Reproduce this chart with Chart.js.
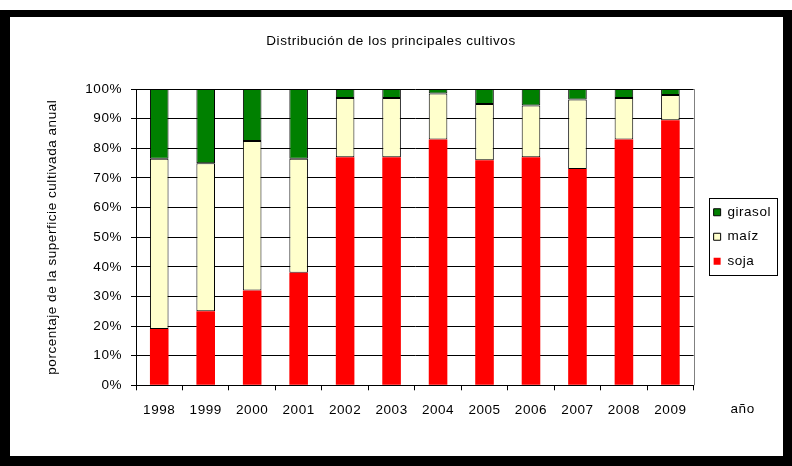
<!DOCTYPE html>
<html>
<head>
<meta charset="utf-8">
<script src="https://cdn.jsdelivr.net/npm/chart.js@4/dist/chart.umd.min.js"></script>
<style>
  body { margin: 0; background: #fff; }
  #frame {
    position: absolute; left: 0; top: 10px;
    width: 792px; height: 456px; box-sizing: border-box;
    border-style: solid; border-color: #000;
    border-width: 7px 9px 10px 10px;
    background: #fff;
  }
  #graphCanvas { display: block; }
</style>
</head>
<body>
<div id="frame">
  <canvas id="graphCanvas" width="773" height="439"></canvas>
</div>
<script>
// valores (porcentaje de la superficie)
var years = ["1998", "1999", "2000", "2001", "2002", "2003", "2004", "2005", "2006", "2007", "2008", "2009"];
var soja = [19, 25, 32, 38, 77, 77, 83, 76, 77, 73, 83, 89.5];
var maiz = [57.5, 50, 50.5, 38.5, 20, 20, 15.5, 19, 17.5, 23.5, 14, 8.5];
var girasol = [23.5, 25, 17.5, 23.5, 3, 3, 1.5, 5, 5.5, 3.5, 3, 2];
var yTicks = [0, 10, 20, 30, 40, 50, 60, 70, 80, 90, 100];

var fontFam = 'Arial, "Liberation Sans", sans-serif';
var fSize = 13.5;
Chart.defaults.font.family = fontFam;
Chart.defaults.font.size = fSize;
Chart.defaults.color = "#000";

// texto un poco mas ancho, como en el original
function spacing(chart) {
  chart.ctx.letterSpacing = "0.55px";
}

// borde de la leyenda, linea derecha del area y rotulo "año"
var extras = {
  id: "extras",
  beforeUpdate: spacing,
  beforeDraw: spacing,
  afterLayout: function (chart) {
    var lg = chart.legend;
    lg.left += 9;
    lg.right += 9;
    lg.top += 9.5;
    lg.bottom += 9.5;
  },
  afterDatasetsDraw: function (chart) {
    var ctx = chart.ctx;
    var a = chart.chartArea;
    ctx.save();
    ctx.strokeStyle = "#808080";
    ctx.lineWidth = 1;
    ctx.beginPath();
    ctx.moveTo(Math.round(a.right) + 0.5, a.top);
    ctx.lineTo(Math.round(a.right) + 0.5, a.bottom);
    ctx.stroke();
    ctx.restore();
  },
  afterDraw: function (chart) {
    var ctx = chart.ctx;
    var boxes = chart.legend.legendHitBoxes;
    if (boxes && boxes.length) {
      var l = 9999, r = 0, t = 9999, b = 0;
      for (var i = 0; i < boxes.length; i++) {
        l = Math.min(l, boxes[i].left);
        r = Math.max(r, boxes[i].left + boxes[i].width);
        t = Math.min(t, boxes[i].top);
        b = Math.max(b, boxes[i].top + boxes[i].height);
      }
      ctx.save();
      ctx.strokeStyle = "#000";
      ctx.lineWidth = 1;
      var x0 = Math.round(l - 5), y0 = Math.round(t - 7.5);
      ctx.strokeRect(x0 + 0.5, y0 + 0.5, Math.round(r + 6) - x0, Math.round(b + 6.5) - y0);
      ctx.restore();
    }
    var a = chart.chartArea;
    ctx.save();
    ctx.font = fSize + "px " + fontFam;
    ctx.fillStyle = "#000";
    ctx.textAlign = "center";
    ctx.textBaseline = "middle";
    ctx.fillText("año", a.right + 49, a.bottom + 24);
    ctx.restore();
  }
};

var chartData = {
  labels: years,
  datasets: [
    {
      label: "soja",
      data: soja,
      backgroundColor: "#ff0000",
      borderColor: "#ff0000",
      borderWidth: 0,
    },
    {
      label: "maíz",
      data: maiz,
      backgroundColor: "#ffffcc",
      borderColor: "#000000",
      borderWidth: 1,
      borderSkipped: false,
    },
    {
      label: "girasol",
      data: girasol,
      backgroundColor: "#008000",
      borderColor: "#000000",
      borderWidth: 1,
      borderSkipped: false,
    },
  ],
};

var barGraph = new Chart(document.getElementById("graphCanvas"), {
  type: "bar",
  data: chartData,
  plugins: [extras],
  options: {
    responsive: false,
    animation: false,
    devicePixelRatio: 1,
    categoryPercentage: 1,
    barPercentage: 0.4,
    layout: { padding: { left: 0, right: 11, top: 8, bottom: 26.5 } },
    plugins: {
      title: {
        display: true,
        text: "Distribución de los principales cultivos",
        font: { size: fSize, weight: "normal" },
        color: "#000",
        padding: { top: 8.6, bottom: 39.3 },
      },
      legend: {
        position: "right",
        reverse: true,
        labels: {
          boxWidth: 7,
          boxHeight: 7,
          padding: 11,
          font: { size: fSize },
          color: "#000",
        },
      },
      tooltip: { enabled: false },
    },
    scales: {
      x: {
        stacked: true,
        grid: {
          offset: true,
          drawOnChartArea: false,
          drawTicks: true,
          tickLength: 5,
          color: "#000",
        },
        border: { color: "#000" },
        ticks: { padding: 11.5, maxRotation: 0, color: "#000" },
      },
      y: {
        stacked: true,
        min: 0,
        max: 100,
        afterBuildTicks: function (s) {
          s.ticks = yTicks.map(function (v) { return { value: v }; });
        },
        afterFit: function (s) { s.width = 126; },
        grid: { color: "#000", tickLength: 5 },
        border: { color: "#000" },
        ticks: {
          padding: 9,
          color: "#000",
          callback: function (v) { return v + "%"; },
        },
        title: {
          display: true,
          text: "porcentaje de la superficie cultivada anual",
          font: { size: fSize },
          color: "#000",
          padding: { top: 34.2, bottom: 0 },
        },
      },
    },
  },
});
</script>
</body>
</html>
